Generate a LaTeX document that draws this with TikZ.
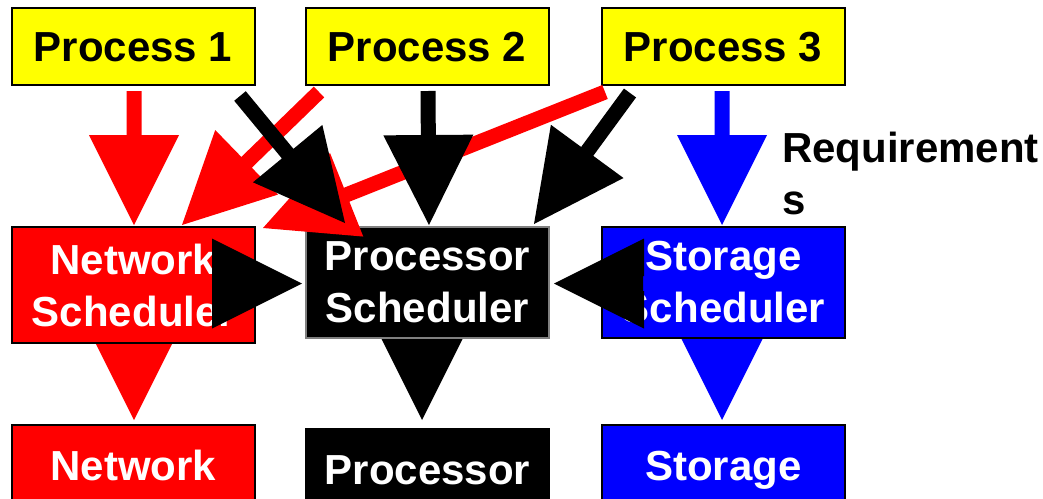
\documentclass[tikz,border=0pt]{standalone}
\usepackage{fontspec}
\setmainfont{Liberation Sans}
\usetikzlibrary{calc}

\definecolor{procyellow}{RGB}{255,255,0}
\definecolor{netred}{RGB}{255,0,0}
\definecolor{stoblue}{RGB}{0,0,255}
\definecolor{edgegray}{RGB}{128,128,128}

\tikzset{
  label font/.style={font=\bfseries\fontsize{42}{52}\selectfont},
  box/.style={label font, draw=black, line width=2pt, minimum width=243pt,
    inner sep=0pt, align=center},
  procbox/.style={box, fill=procyellow, minimum height=77pt,
    text height=30pt, text depth=0pt},
  schedbox/.style={box, text=white, minimum height=111pt},
  resbox/.style={box, text=white, anchor=north, minimum height=80pt,
    text height=30pt, text depth=0pt},
}

% Block arrow: shaft 15pt wide, head 90pt wide and 90pt long.
% #1 colour, #2 tail coordinate, #3 tip coordinate
\newcommand\blockarrow[3]{%
  \coordinate (hb) at ($(#3)!90pt!(#2)$);
  \fill[#1] ($(#2)!7.5pt!90:(#3)$) -- ($(hb)!7.5pt!90:(#3)$)
    -- ($(hb)!45pt!90:(#3)$) -- (#3) -- ($(hb)!45pt!-90:(#3)$)
    -- ($(hb)!7.5pt!-90:(#3)$) -- ($(#2)!7.5pt!-90:(#3)$) -- cycle;
}

\begin{document}
\begin{tikzpicture}[x=1pt,y=-1pt]
\useasboundingbox (0,0) rectangle (1043,498);
\clip (0,0) rectangle (1043,498);

% arrow end points
\coordinate (nsdown) at (134,300);   \coordinate (netin) at (134,420);
\coordinate (psdown) at (422,300);   \coordinate (procin) at (422,420);
\coordinate (ssdown) at (722,300);   \coordinate (stoin) at (722,420);

% scheduler -> resource arrows (behind the boxes)
\blockarrow{netred}{nsdown}{netin}
\blockarrow{black}{psdown}{procin}
\blockarrow{stoblue}{ssdown}{stoin}

% processes
\node[procbox] (p1) at (133,46.5) {Process 1};
\node[procbox] (p2) at (427,46.5) {Process 2};
\node[procbox] (p3) at (723,46.5) {Process 3};

% schedulers
\node[schedbox, fill=netred, minimum height=116pt] (ns) at (133.5,285) {Network\\Scheduler};
\node[schedbox, fill=black, draw=edgegray] (ps) at (427.5,282.5) {Processor\\Scheduler};
\node[schedbox, fill=stoblue] (ss) at (723.5,282.5) {Storage\\Scheduler};

% resources
\node[resbox, fill=netred] (net) at (133.5,424) {Network};
\node[resbox, fill=black] (proc) at (427.5,428) {Processor};
\node[resbox, fill=stoblue] (sto) at (723.5,424) {Storage};

% the base anchor of this two-line node sits on its last line
\node[label font, anchor=base west, align=left, inner sep=0pt] (req) at (782,214) {Requirement\\s};

% requirement arrows
\coordinate (p1a) at (134,91);   \coordinate (nsa) at (134,225);
\coordinate (p1b) at (240,96);   \coordinate (psa) at (345,223);
\coordinate (p2a) at (319,92);   \coordinate (nsb) at (182,225);
\coordinate (p2b) at (428,91);   \coordinate (psb) at (429,225);
\coordinate (p3a) at (605,92);   \coordinate (psc) at (263,228);
\coordinate (p3b) at (630,93);   \coordinate (psd) at (534,224);
\coordinate (p3c) at (722,91);   \coordinate (ssa) at (722,225);

\blockarrow{netred}{p2a}{nsb}
\blockarrow{netred}{p3a}{psc}
\blockarrow{netred}{p1a}{nsa}
\blockarrow{stoblue}{p3c}{ssa}
\blockarrow{black}{p2b}{psb}
\blockarrow{black}{p1b}{psa}
\blockarrow{black}{p3b}{psd}

% scheduler -> processor scheduler heads
\coordinate (nsr) at (212,283.5);  \coordinate (psl) at (302,283.5);
\coordinate (ssl) at (643,283.5);  \coordinate (psr) at (554,283.5);
\blockarrow{black}{nsr}{psl}
\blockarrow{black}{ssl}{psr}
\end{tikzpicture}
\end{document}
